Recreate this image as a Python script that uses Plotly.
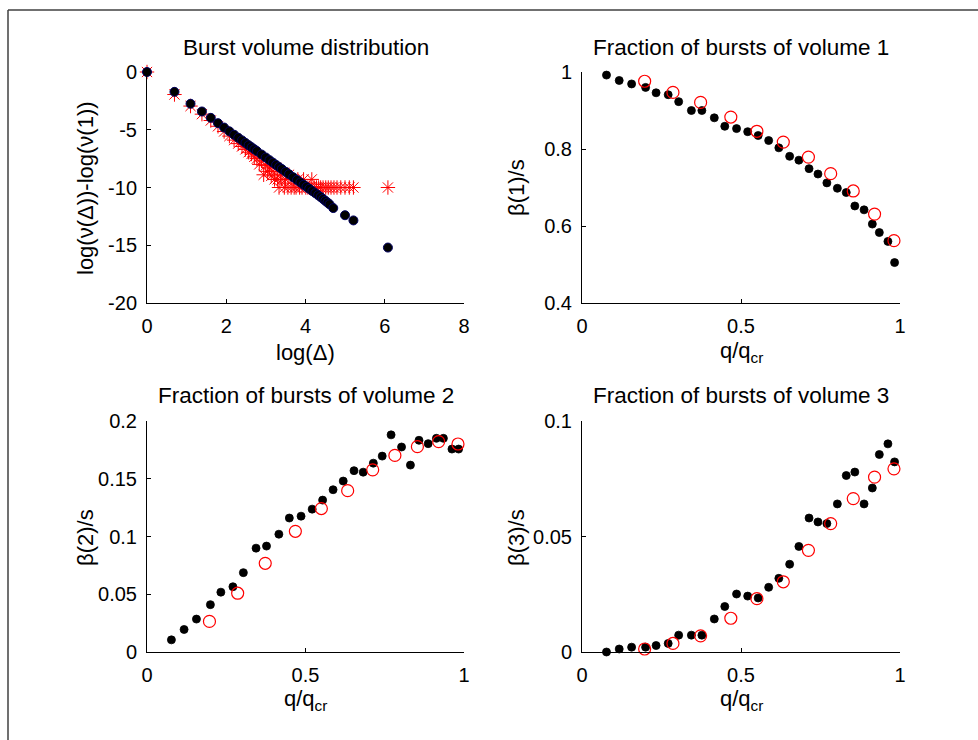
import numpy as np
import plotly.graph_objects as go

# ---------------- data ----------------
# Panel 1: burst volume distribution (burst size n, log ratio)
size_black = [1, 2, 3, 4, 5, 6, 7, 8, 9, 10, 11, 12, 13, 14, 15, 16, 18, 20, 22, 24,
              26, 28, 30, 33, 36, 40, 44, 48, 52, 56, 60, 65, 70, 75, 80, 85, 90, 95,
              100, 110, 148, 183, 437]
logratio_black = [0.0, -1.72, -2.75, -3.42, -3.97, -4.43, -4.81, -5.14, -5.43, -5.69,
                  -5.92, -6.14, -6.34, -6.52, -6.69, -6.85, -7.14, -7.40, -7.63, -7.85,
                  -8.05, -8.23, -8.40, -8.64, -8.85, -9.11, -9.35, -9.56, -9.76, -9.94,
                  -10.11, -10.31, -10.49, -10.66, -10.82, -10.99, -11.15, -11.30, -11.45,
                  -11.78, -12.40, -12.85, -15.20]
size_red = [1, 2, 3, 4, 5, 6, 7, 8, 9, 10, 11, 12, 13, 14, 15, 16, 17, 18, 19, 20,
            21, 22, 23, 24, 25, 26, 27, 28, 29, 30, 32, 33, 35, 36, 38, 40, 41, 43, 45,
            47, 50, 52, 55, 58, 61, 64, 68, 72, 76, 80, 85, 91, 97, 104, 112, 121, 133,
            148, 165, 183, 437]
logratio_red = [0.0, -1.95, -2.95, -3.65, -4.2, -4.7, -5.15, -5.55, -5.9, -6.2,
                -6.45, -6.7, -6.95, -7.1, -7.35, -7.5, -8.0, -7.7, -8.9, -8.1,
                -8.6, -8.3, -9.0, -8.6, -9.3, -8.3, -9.3, -10.0, -8.9, -9.3,
                -10.0, -9.3, -10.0, -8.9, -10.0, -9.3, -10.0, -10.0, -9.3,
                -10.0, -10.0, -9.3, -10.0, -10.0, -10.0, -9.3, -10.0, -10.0, -10.0, -10.0,
                -10.0, -10.0, -10.0, -10.0, -10.0, -10.0, -10.0,
                -10.0, -10.0, -10.0, -10.0]

# Panels 2-4: fractions vs q/q_cr
q_black = [0.077, 0.117, 0.156, 0.200, 0.233, 0.271, 0.304, 0.344, 0.377, 0.416,
           0.449, 0.486, 0.521, 0.554, 0.587, 0.619, 0.653, 0.682, 0.714, 0.742,
           0.770, 0.803, 0.831, 0.858, 0.887, 0.913, 0.935, 0.962, 0.983]
q_red = [0.197, 0.286, 0.373, 0.468, 0.550, 0.633, 0.712, 0.782, 0.853, 0.920, 0.981]

beta1_black = [0.992, 0.978, 0.969, 0.960, 0.946, 0.941, 0.923, 0.900, 0.900, 0.881,
               0.859, 0.853, 0.845, 0.835, 0.822, 0.803, 0.781, 0.771, 0.749, 0.735,
               0.712, 0.698, 0.687, 0.652, 0.642, 0.605, 0.583, 0.560, 0.505]
beta1_red = [0.976, 0.947, 0.921, 0.883, 0.846, 0.818, 0.779, 0.736, 0.691, 0.631, 0.562]

beta2_black = [0.0105, 0.0195, 0.0285, 0.041, 0.0518, 0.0565, 0.0687, 0.0899, 0.0917,
               0.102, 0.116, 0.1176, 0.1237, 0.1315, 0.1405, 0.148, 0.157, 0.1557,
               0.1635, 0.1696, 0.188, 0.1775, 0.1618, 0.1833, 0.1804, 0.185, 0.185,
               0.1757, 0.1757]
beta2_red = [0.0265, 0.0509, 0.0768, 0.1045, 0.1242, 0.1397, 0.1577, 0.1702, 0.1778,
             0.1822, 0.1801]

beta3_black = [0.0, 0.0013, 0.0021, 0.0021, 0.0028, 0.0037, 0.0073, 0.0073, 0.0073,
               0.0143, 0.0197, 0.0251, 0.0242, 0.0234, 0.0280, 0.0319, 0.0380, 0.0457,
               0.0580, 0.0563, 0.0556, 0.0641, 0.0764, 0.0779, 0.0641, 0.0710, 0.0855,
               0.0901, 0.0823]
beta3_red = [0.0013, 0.0037, 0.0070, 0.0146, 0.0231, 0.0304, 0.0440, 0.0556, 0.0664,
             0.0757, 0.0793]

titles = ["Burst volume distribution", "Fraction of bursts of volume 1",
          "Fraction of bursts of volume 2", "Fraction of bursts of volume 3"]
ylabels = ["log(\u03bd(\u0394))-log(\u03bd(1))", "\u03b2(1)/s", "\u03b2(2)/s", "\u03b2(3)/s"]
xlabels = ["log(\u0394)", "q/q<sub>cr</sub>", "q/q<sub>cr</sub>", "q/q<sub>cr</sub>"]

xt1 = [0, 2, 4, 6, 8]
yt1 = [-20, -15, -10, -5, 0]
xtq = [0, 0.5, 1]
xtq_text = ["0", "0.5", "1"]
yt2 = [0.4, 0.6, 0.8, 1.0]
yt2_text = ["0.4", "0.6", "0.8", "1"]
yt3 = [0, 0.05, 0.1, 0.15, 0.2]
yt3_text = ["0", "0.05", "0.1", "0.15", "0.2"]
yt4 = [0, 0.05, 0.1]
yt4_text = ["0", "0.05", "0.1"]

# ---------------- figure ----------------
W, H = 978, 740
FONT = "Liberation Sans, Arial, sans-serif"

def px_x(p):
    return p / W

def px_y(p):
    return 1 - p / H

xl = [px_x(147), px_x(464)]
xr = [px_x(582), px_x(900)]
yt = [px_y(303), px_y(72)]
yb = [px_y(652), px_y(421)]

fig = go.Figure()

red_circ = dict(symbol="circle-open", size=12, color="#ff0000", line=dict(width=1.2, color="#ff0000"))
blk = dict(symbol="circle", size=8, color="black", line=dict(width=0.8, color="black"))

# panel 1
fig.add_trace(go.Scatter(x=np.log(size_red), y=logratio_red, mode="markers",
                         marker=dict(symbol="asterisk-open", size=12,
                                     line=dict(width=1, color="#ff0000"), color="#ff0000"),
                         xaxis="x", yaxis="y", cliponaxis=False, showlegend=False))
fig.add_trace(go.Scatter(x=np.log(size_black), y=logratio_black, mode="markers",
                         marker=dict(symbol="circle", size=9, color="black",
                                     line=dict(width=1, color="#000060")),
                         xaxis="x", yaxis="y", cliponaxis=False, showlegend=False))
# panel 2
fig.add_trace(go.Scatter(x=q_black, y=beta1_black, mode="markers", marker=blk,
                         xaxis="x2", yaxis="y2", cliponaxis=False, showlegend=False))
fig.add_trace(go.Scatter(x=q_red, y=beta1_red, mode="markers", marker=red_circ,
                         xaxis="x2", yaxis="y2", cliponaxis=False, showlegend=False))
# panel 3
fig.add_trace(go.Scatter(x=q_black, y=beta2_black, mode="markers", marker=blk,
                         xaxis="x3", yaxis="y3", cliponaxis=False, showlegend=False))
fig.add_trace(go.Scatter(x=q_red, y=beta2_red, mode="markers", marker=red_circ,
                         xaxis="x3", yaxis="y3", cliponaxis=False, showlegend=False))
# panel 4
fig.add_trace(go.Scatter(x=q_black, y=beta3_black, mode="markers", marker=blk,
                         xaxis="x4", yaxis="y4", cliponaxis=False, showlegend=False))
fig.add_trace(go.Scatter(x=q_red, y=beta3_red, mode="markers", marker=red_circ,
                         xaxis="x4", yaxis="y4", cliponaxis=False, showlegend=False))

def ax(domain, rng, tv, tt, anchor):
    return dict(domain=domain, range=rng, tickvals=tv, ticktext=tt, anchor=anchor,
                showline=True, linecolor="black", linewidth=1, mirror=False,
                ticks="inside", ticklen=4, tickcolor="black", showgrid=False,
                zeroline=False, automargin=False,
                tickfont=dict(family=FONT, size=20, color="black"),
                fixedrange=True)

fig.update_layout(
    template="none",
    width=W, height=H, margin=dict(l=0, r=0, t=0, b=0, pad=0, autoexpand=False),
    paper_bgcolor="white", plot_bgcolor="white",
    font=dict(family=FONT, size=20, color="black"),
    xaxis=ax(xl, [0, 8], xt1, [str(v) for v in xt1], "y"),
    yaxis=ax(yt, [-20, 0], yt1, [str(v) for v in yt1], "x"),
    xaxis2=ax(xr, [0, 1], xtq, xtq_text, "y2"),
    yaxis2=ax(yt, [0.4, 1.0], yt2, yt2_text, "x2"),
    xaxis3=ax(xl, [0, 1], xtq, xtq_text, "y3"),
    yaxis3=ax(yb, [0, 0.2], yt3, yt3_text, "x3"),
    xaxis4=ax(xr, [0, 1], xtq, xtq_text, "y4"),
    yaxis4=ax(yb, [0, 0.1], yt4, yt4_text, "x4"),
)
for k in ["xaxis", "xaxis2", "xaxis3", "xaxis4"]:
    fig.layout[k].ticklabelstandoff = 5
for k in ["yaxis", "yaxis2", "yaxis3", "yaxis4"]:
    fig.layout[k].ticklabelstandoff = 5

# titles and axis labels
centers_x = [(147 + 464) / 2, (582 + 900) / 2, (147 + 464) / 2, (582 + 900) / 2]
title_y = [47, 47, 395, 395]
xlabel_y = [352, 352, 700, 700]
ylabel_x = [85, 516, 85, 516]
ylabel_y = [188, 188, 538, 538]
ann = []
for i in range(4):
    ann.append(dict(text=titles[i], x=px_x(centers_x[i]), y=px_y(title_y[i]),
                    xref="paper", yref="paper", showarrow=False,
                    xanchor="center", yanchor="middle",
                    font=dict(family=FONT, size=22.5, color="black")))
    ann.append(dict(text=xlabels[i], x=px_x(centers_x[i]), y=px_y(xlabel_y[i]),
                    xref="paper", yref="paper", showarrow=False,
                    xanchor="center", yanchor="middle",
                    font=dict(family=FONT, size=22, color="black")))
    ann.append(dict(text=ylabels[i], x=px_x(ylabel_x[i]), y=px_y(ylabel_y[i]),
                    xref="paper", yref="paper", showarrow=False, textangle=-90,
                    xanchor="center", yanchor="middle",
                    font=dict(family=FONT, size=22, color="black")))
fig.update_layout(annotations=ann)

# outer frame (left and top edges)
fig.update_layout(shapes=[
    dict(type="line", xref="paper", yref="paper", x0=px_x(8), x1=1.0,
         y0=px_y(10), y1=px_y(10), line=dict(color="#404040", width=1.5)),
    dict(type="line", xref="paper", yref="paper", x0=px_x(8), x1=px_x(8),
         y0=0, y1=px_y(10), line=dict(color="#404040", width=1.5)),
])

fig.write_html("out.html")
